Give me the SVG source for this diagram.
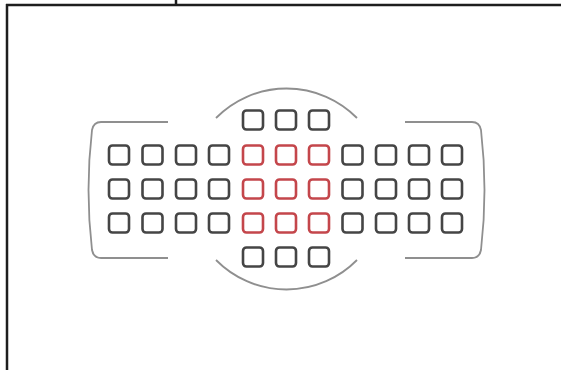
<svg xmlns="http://www.w3.org/2000/svg" width="561" height="370" viewBox="0 0 561 370">
<style>
.frame{stroke:#1e1e1e;stroke-width:2.5;fill:none}
.b{fill:none;stroke:#454545;stroke-width:2.6}
.r{fill:none;stroke:#c4464b;stroke-width:2.6}
.arc{fill:none;stroke:#8f8f8f;stroke-width:1.8}
</style>
<rect width="561" height="370" fill="#ffffff"/>
<g id="frame">
<line class="frame" x1="6" y1="5" x2="561" y2="5"/>
<line class="frame" x1="7" y1="4" x2="7" y2="370"/>
<line class="frame" x1="176" y1="0" x2="176" y2="5" stroke-width="2"/>
</g>
<g id="guides">
<path class="arc" d="M168,122 H101 C95,122 93,125 92,130 Q85,190 92,250 C93,255 95,258 101,258 H168"/>
<path class="arc" d="M405,122 H472 C478,122 480,125 481,130 Q488,190 481,250 C480,255 478,258 472,258 H405"/>
<path class="arc" d="M216,118 A99,99 0 0 1 357,118"/>
<path class="arc" d="M216,260 A99,99 0 0 0 357,260"/>
</g>
<g id="row1">
<rect class="b" x="243" y="110.5" width="20" height="19" rx="3.5"/>
<rect class="b" x="276" y="110.5" width="20" height="19" rx="3.5"/>
<rect class="b" x="309" y="110.5" width="20" height="19" rx="3.5"/>
</g>
<g id="row2">
<rect class="b" x="109" y="145.5" width="20" height="19" rx="3.5"/>
<rect class="b" x="142.5" y="145.5" width="20" height="19" rx="3.5"/>
<rect class="b" x="176" y="145.5" width="20" height="19" rx="3.5"/>
<rect class="b" x="209" y="145.5" width="20" height="19" rx="3.5"/>
<rect class="r" x="243" y="145.5" width="20" height="19" rx="3.5"/>
<rect class="r" x="276" y="145.5" width="20" height="19" rx="3.5"/>
<rect class="r" x="309" y="145.5" width="20" height="19" rx="3.5"/>
<rect class="b" x="342.5" y="145.5" width="20" height="19" rx="3.5"/>
<rect class="b" x="376" y="145.5" width="20" height="19" rx="3.5"/>
<rect class="b" x="409" y="145.5" width="20" height="19" rx="3.5"/>
<rect class="b" x="442" y="145.5" width="20" height="19" rx="3.5"/>
</g>
<g id="row3">
<rect class="b" x="109" y="179.5" width="20" height="19" rx="3.5"/>
<rect class="b" x="142.5" y="179.5" width="20" height="19" rx="3.5"/>
<rect class="b" x="176" y="179.5" width="20" height="19" rx="3.5"/>
<rect class="b" x="209" y="179.5" width="20" height="19" rx="3.5"/>
<rect class="r" x="243" y="179.5" width="20" height="19" rx="3.5"/>
<rect class="r" x="276" y="179.5" width="20" height="19" rx="3.5"/>
<rect class="r" x="309" y="179.5" width="20" height="19" rx="3.5"/>
<rect class="b" x="342.5" y="179.5" width="20" height="19" rx="3.5"/>
<rect class="b" x="376" y="179.5" width="20" height="19" rx="3.5"/>
<rect class="b" x="409" y="179.5" width="20" height="19" rx="3.5"/>
<rect class="b" x="442" y="179.5" width="20" height="19" rx="3.5"/>
</g>
<g id="row4">
<rect class="b" x="109" y="213.5" width="20" height="19" rx="3.5"/>
<rect class="b" x="142.5" y="213.5" width="20" height="19" rx="3.5"/>
<rect class="b" x="176" y="213.5" width="20" height="19" rx="3.5"/>
<rect class="b" x="209" y="213.5" width="20" height="19" rx="3.5"/>
<rect class="r" x="243" y="213.5" width="20" height="19" rx="3.5"/>
<rect class="r" x="276" y="213.5" width="20" height="19" rx="3.5"/>
<rect class="r" x="309" y="213.5" width="20" height="19" rx="3.5"/>
<rect class="b" x="342.5" y="213.5" width="20" height="19" rx="3.5"/>
<rect class="b" x="376" y="213.5" width="20" height="19" rx="3.5"/>
<rect class="b" x="409" y="213.5" width="20" height="19" rx="3.5"/>
<rect class="b" x="442" y="213.5" width="20" height="19" rx="3.5"/>
</g>
<g id="row5">
<rect class="b" x="243" y="247.5" width="20" height="19" rx="3.5"/>
<rect class="b" x="276" y="247.5" width="20" height="19" rx="3.5"/>
<rect class="b" x="309" y="247.5" width="20" height="19" rx="3.5"/>
</g>
</svg>
